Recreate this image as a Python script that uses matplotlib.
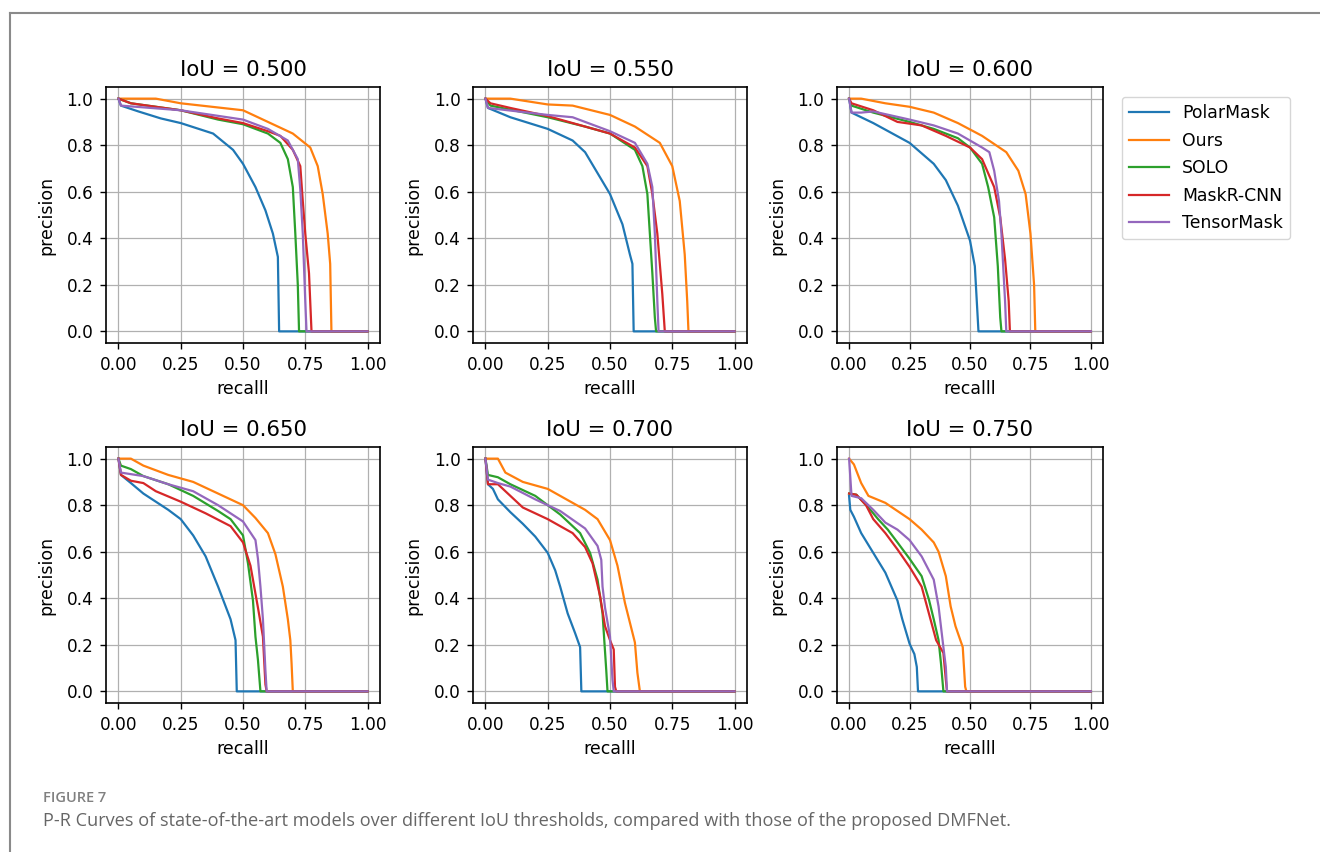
import matplotlib
matplotlib.use("Agg")
import matplotlib.pyplot as plt
from matplotlib.lines import Line2D

# model names, drawn in this order (tab10 colours C0..C4)
models = ["PolarMask", "Ours", "SOLO", "MaskR-CNN", "TensorMask"]
iou_thresholds = [0.500, 0.550, 0.600, 0.650, 0.700, 0.750]
xticks = [0.00, 0.25, 0.50, 0.75, 1.00]
yticks = [0.0, 0.2, 0.4, 0.6, 0.8, 1.0]

# ---- IoU = 0.50 ----
pm50_r = [0, 0.01, 0.08, 0.17, 0.25, 0.38, 0.46, 0.50, 0.55, 0.59, 0.62, 0.64, 0.645, 1.0]
pm50_p = [1.0, 0.97, 0.945, 0.915, 0.895, 0.85, 0.78, 0.72, 0.62, 0.52, 0.42, 0.32, 0.0, 0.0]
ours50_r = [0, 0.15, 0.25, 0.5, 0.6, 0.7, 0.77, 0.8, 0.82, 0.84, 0.85, 0.855, 1.0]
ours50_p = [1.0, 1.0, 0.98, 0.95, 0.90, 0.85, 0.79, 0.71, 0.59, 0.42, 0.29, 0.0, 0.0]
solo50_r = [0, 0.05, 0.25, 0.4, 0.5, 0.6, 0.65, 0.68, 0.70, 0.71, 0.72, 0.725, 1.0]
solo50_p = [1.0, 0.98, 0.95, 0.91, 0.89, 0.85, 0.81, 0.74, 0.62, 0.42, 0.2, 0.0, 0.0]
mask50_r = [0, 0.05, 0.25, 0.4, 0.5, 0.6, 0.65, 0.7, 0.73, 0.74, 0.75, 0.765, 0.775, 1.0]
mask50_p = [1.0, 0.98, 0.95, 0.915, 0.895, 0.86, 0.84, 0.78, 0.71, 0.56, 0.42, 0.25, 0.0, 0.0]
tm50_r = [0, 0.01, 0.25, 0.5, 0.6, 0.68, 0.72, 0.73, 0.74, 0.75, 0.755, 1.0]
tm50_p = [1.0, 0.97, 0.95, 0.91, 0.87, 0.82, 0.74, 0.61, 0.42, 0.13, 0.0, 0.0]

# ---- IoU = 0.55 ----
pm55_r = [0, 0.01, 0.1, 0.25, 0.35, 0.4, 0.45, 0.5, 0.55, 0.58, 0.59, 0.595, 1.0]
pm55_p = [1.0, 0.96, 0.92, 0.87, 0.82, 0.77, 0.68, 0.59, 0.46, 0.33, 0.29, 0.0, 0.0]
ours55_r = [0, 0.1, 0.25, 0.35, 0.5, 0.6, 0.7, 0.75, 0.78, 0.8, 0.81, 0.815, 1.0]
ours55_p = [1.0, 1.0, 0.975, 0.97, 0.93, 0.88, 0.81, 0.71, 0.56, 0.33, 0.13, 0.0, 0.0]
solo55_r = [0, 0.02, 0.25, 0.4, 0.5, 0.6, 0.63, 0.65, 0.66, 0.67, 0.68, 0.685, 1.0]
solo55_p = [1.0, 0.97, 0.92, 0.88, 0.85, 0.78, 0.71, 0.59, 0.42, 0.25, 0.06, 0.0, 0.0]
mask55_r = [0, 0.02, 0.1, 0.25, 0.4, 0.5, 0.6, 0.65, 0.67, 0.69, 0.7, 0.71, 0.72, 1.0]
mask55_p = [1.0, 0.98, 0.96, 0.925, 0.88, 0.85, 0.79, 0.71, 0.59, 0.42, 0.29, 0.16, 0.0, 0.0]
tm55_r = [0, 0.01, 0.25, 0.35, 0.5, 0.6, 0.65, 0.67, 0.68, 0.69, 0.695, 1.0]
tm55_p = [1.0, 0.96, 0.93, 0.92, 0.86, 0.81, 0.72, 0.62, 0.42, 0.13, 0.0, 0.0]

# ---- IoU = 0.60 ----
pm60_r = [0, 0.01, 0.1, 0.25, 0.35, 0.4, 0.45, 0.5, 0.52, 0.535, 1.0]
pm60_p = [1.0, 0.94, 0.895, 0.81, 0.72, 0.65, 0.54, 0.39, 0.28, 0.0, 0.0]
ours60_r = [0, 0.05, 0.15, 0.25, 0.35, 0.45, 0.55, 0.65, 0.7, 0.73, 0.75, 0.765, 0.77, 1.0]
ours60_p = [1.0, 1.0, 0.98, 0.965, 0.94, 0.895, 0.84, 0.77, 0.69, 0.59, 0.42, 0.2, 0.0, 0.0]
solo60_r = [0, 0.01, 0.1, 0.25, 0.35, 0.45, 0.5, 0.55, 0.575, 0.6, 0.615, 0.625, 0.63, 1.0]
solo60_p = [1.0, 0.97, 0.94, 0.90, 0.87, 0.83, 0.79, 0.72, 0.62, 0.49, 0.28, 0.06, 0.0, 0.0]
mask60_r = [0, 0.01, 0.1, 0.2, 0.3, 0.4, 0.5, 0.55, 0.6, 0.625, 0.645, 0.66, 0.665, 1.0]
mask60_p = [1.0, 0.98, 0.95, 0.90, 0.885, 0.84, 0.79, 0.74, 0.62, 0.49, 0.31, 0.13, 0.0, 0.0]
tm60_r = [0, 0.01, 0.05, 0.1, 0.25, 0.35, 0.45, 0.55, 0.58, 0.6, 0.62, 0.63, 0.645, 0.65, 1.0]
tm60_p = [1.0, 0.94, 0.94, 0.945, 0.91, 0.885, 0.85, 0.79, 0.77, 0.69, 0.56, 0.42, 0.13, 0.0, 0.0]

# ---- IoU = 0.65 ----
pm65_r = [0, 0.01, 0.05, 0.1, 0.2, 0.25, 0.3, 0.35, 0.4, 0.45, 0.47, 0.475, 1.0]
pm65_p = [1.0, 0.93, 0.895, 0.85, 0.78, 0.74, 0.67, 0.58, 0.45, 0.31, 0.22, 0.0, 0.0]
ours65_r = [0, 0.05, 0.1, 0.2, 0.3, 0.4, 0.5, 0.55, 0.6, 0.63, 0.66, 0.68, 0.69, 0.695, 0.70, 1.0]
ours65_p = [1.0, 1.0, 0.97, 0.93, 0.90, 0.85, 0.80, 0.745, 0.68, 0.59, 0.45, 0.31, 0.22, 0.12, 0.0, 0.0]
solo65_r = [0, 0.01, 0.05, 0.1, 0.2, 0.3, 0.4, 0.45, 0.5, 0.52, 0.54, 0.55, 0.56, 0.57, 1.0]
solo65_p = [1.0, 0.97, 0.955, 0.925, 0.89, 0.84, 0.775, 0.74, 0.67, 0.55, 0.39, 0.235, 0.135, 0.0, 0.0]
mask65_r = [0, 0.01, 0.05, 0.1, 0.15, 0.25, 0.35, 0.45, 0.5, 0.53, 0.56, 0.58, 0.59, 0.595, 1.0]
mask65_p = [1.0, 0.93, 0.905, 0.895, 0.86, 0.815, 0.765, 0.71, 0.64, 0.54, 0.36, 0.235, 0.03, 0.0, 0.0]
tm65_r = [0, 0.01, 0.1, 0.2, 0.3, 0.4, 0.5, 0.55, 0.56, 0.57, 0.58, 0.59, 0.595, 1.0]
tm65_p = [1.0, 0.94, 0.925, 0.89, 0.86, 0.80, 0.73, 0.65, 0.57, 0.45, 0.31, 0.09, 0.0, 0.0]

# ---- IoU = 0.70 ----
pm70_r = [0, 0.01, 0.03, 0.05, 0.1, 0.15, 0.2, 0.25, 0.28, 0.3, 0.33, 0.36, 0.38, 0.385, 1.0]
pm70_p = [1.0, 0.89, 0.87, 0.825, 0.77, 0.72, 0.665, 0.595, 0.52, 0.45, 0.335, 0.25, 0.19, 0.0, 0.0]
ours70_r = [0, 0.05, 0.08, 0.15, 0.25, 0.3, 0.4, 0.45, 0.5, 0.53, 0.56, 0.6, 0.61, 0.62, 1.0]
ours70_p = [1.0, 1.0, 0.94, 0.90, 0.87, 0.84, 0.78, 0.74, 0.65, 0.54, 0.38, 0.21, 0.08, 0.0, 0.0]
solo70_r = [0, 0.01, 0.05, 0.1, 0.2, 0.3, 0.38, 0.42, 0.45, 0.47, 0.485, 0.49, 1.0]
solo70_p = [1.0, 0.93, 0.92, 0.89, 0.84, 0.76, 0.68, 0.595, 0.48, 0.335, 0.09, 0.0, 0.0]
mask70_r = [0, 0.01, 0.05, 0.1, 0.15, 0.25, 0.35, 0.4, 0.43, 0.46, 0.48, 0.5, 0.515, 0.52, 0.525, 1.0]
mask70_p = [1.0, 0.89, 0.89, 0.84, 0.79, 0.74, 0.68, 0.62, 0.55, 0.41, 0.28, 0.22, 0.18, 0.02, 0.0, 0.0]
tm70_r = [0, 0.01, 0.05, 0.1, 0.2, 0.3, 0.4, 0.45, 0.465, 0.47, 0.48, 0.5, 0.51, 0.515, 1.0]
tm70_p = [1.0, 0.91, 0.895, 0.88, 0.825, 0.775, 0.70, 0.625, 0.565, 0.45, 0.36, 0.235, 0.05, 0.0, 0.0]

# ---- IoU = 0.75 ----
pm75_r = [0, 0.005, 0.02, 0.05, 0.1, 0.15, 0.2, 0.22, 0.25, 0.27, 0.28, 0.285, 1.0]
pm75_p = [0.84, 0.78, 0.75, 0.68, 0.595, 0.51, 0.39, 0.31, 0.205, 0.16, 0.105, 0.0, 0.0]
ours75_r = [0, 0.02, 0.05, 0.08, 0.15, 0.25, 0.3, 0.35, 0.37, 0.4, 0.42, 0.44, 0.47, 0.48, 0.485, 1.0]
ours75_p = [1.0, 0.975, 0.895, 0.84, 0.81, 0.74, 0.695, 0.64, 0.60, 0.495, 0.365, 0.28, 0.19, 0.02, 0.0, 0.0]
solo75_r = [0, 0.03, 0.08, 0.12, 0.16, 0.2, 0.25, 0.3, 0.33, 0.35, 0.37, 0.38, 0.39, 1.0]
solo75_p = [0.85, 0.845, 0.79, 0.74, 0.695, 0.64, 0.57, 0.495, 0.395, 0.31, 0.22, 0.12, 0.0, 0.0]
mask75_r = [0, 0.03, 0.07, 0.1, 0.15, 0.2, 0.25, 0.3, 0.33, 0.36, 0.39, 0.4, 0.405, 1.0]
mask75_p = [0.85, 0.845, 0.80, 0.74, 0.68, 0.61, 0.535, 0.45, 0.335, 0.22, 0.165, 0.05, 0.0, 0.0]
tm75_r = [0, 0.01, 0.05, 0.1, 0.15, 0.2, 0.25, 0.3, 0.35, 0.37, 0.39, 0.4, 0.405, 1.0]
tm75_p = [1.0, 0.84, 0.83, 0.78, 0.725, 0.695, 0.65, 0.58, 0.48, 0.365, 0.19, 0.105, 0.0, 0.0]

panels = [
    [(pm50_r, pm50_p), (ours50_r, ours50_p), (solo50_r, solo50_p), (mask50_r, mask50_p), (tm50_r, tm50_p)],
    [(pm55_r, pm55_p), (ours55_r, ours55_p), (solo55_r, solo55_p), (mask55_r, mask55_p), (tm55_r, tm55_p)],
    [(pm60_r, pm60_p), (ours60_r, ours60_p), (solo60_r, solo60_p), (mask60_r, mask60_p), (tm60_r, tm60_p)],
    [(pm65_r, pm65_p), (ours65_r, ours65_p), (solo65_r, solo65_p), (mask65_r, mask65_p), (tm65_r, tm65_p)],
    [(pm70_r, pm70_p), (ours70_r, ours70_p), (solo70_r, solo70_p), (mask70_r, mask70_p), (tm70_r, tm70_p)],
    [(pm75_r, pm75_p), (ours75_r, ours75_p), (solo75_r, solo75_p), (mask75_r, mask75_p), (tm75_r, tm75_p)],
]

W, H = 1320, 852
fig = plt.figure(figsize=(W / 100, H / 100), dpi=100)

# axes boxes in pixels (left, top, width, height)
col_left = [106, 473, 837]
col_width = [274, 274, 266]
row_top = [87, 447]
ax_h = 256

colors = ["C0", "C1", "C2", "C3", "C4"]

for i, (iou, curves) in enumerate(zip(iou_thresholds, panels)):
    row, col = divmod(i, 3)
    l, t, w = col_left[col], row_top[row], col_width[col]
    ax = fig.add_axes([l / W, 1 - (t + ax_h) / H, w / W, ax_h / H])
    for (r, p), c, name in zip(curves, colors, models):
        ax.plot(r, p, color=c, lw=1.6, label=name)
    ax.set_xticks(xticks)
    ax.set_yticks(yticks)
    ax.tick_params(labelsize=12.2, length=4.5, width=1.0, pad=4.5)
    for s in ax.spines.values():
        s.set_linewidth(1.2)
    ax.grid(True, color="#b0b0b0", lw=0.9)
    ax.set_title("IoU = %.3f" % iou, fontsize=15.3, pad=8)
    ax.set_xlabel("recalll", fontsize=12.5, labelpad=5)
    ax.set_ylabel("precision", fontsize=12.5, labelpad=8)

handles = [Line2D([], [], color=c, lw=1.6) for c in colors]
fig.legend(handles, models, loc="upper left", bbox_to_anchor=(1122 / W, 1 - 97 / H),
           fontsize=12.4, handlelength=2.3, labelspacing=0.56, framealpha=0.8,
           edgecolor="#cccccc", borderaxespad=0)

# page frame (top and left rule)
fig.add_artist(Line2D([10 / W, 1], [1 - 13 / H, 1 - 13 / H], color="#8a8a8a", lw=1.5))
fig.add_artist(Line2D([10 / W, 10 / W], [0, 1 - 13 / H], color="#8a8a8a", lw=1.5))

fig.text(43 / W, 1 - 798 / H, "FIGURE 7", fontsize=10.5, color="#808080",
         family=["Open Sans", "DejaVu Sans"], weight="semibold", va="center")
fig.text(43 / W, 1 - 821 / H,
         "P-R Curves of state-of-the-art models over different IoU thresholds, "
         "compared with those of the proposed DMFNet.",
         fontsize=13.1, color="#666666", family=["Open Sans", "DejaVu Sans"], va="center")

fig.savefig("out.png", dpi=100)
